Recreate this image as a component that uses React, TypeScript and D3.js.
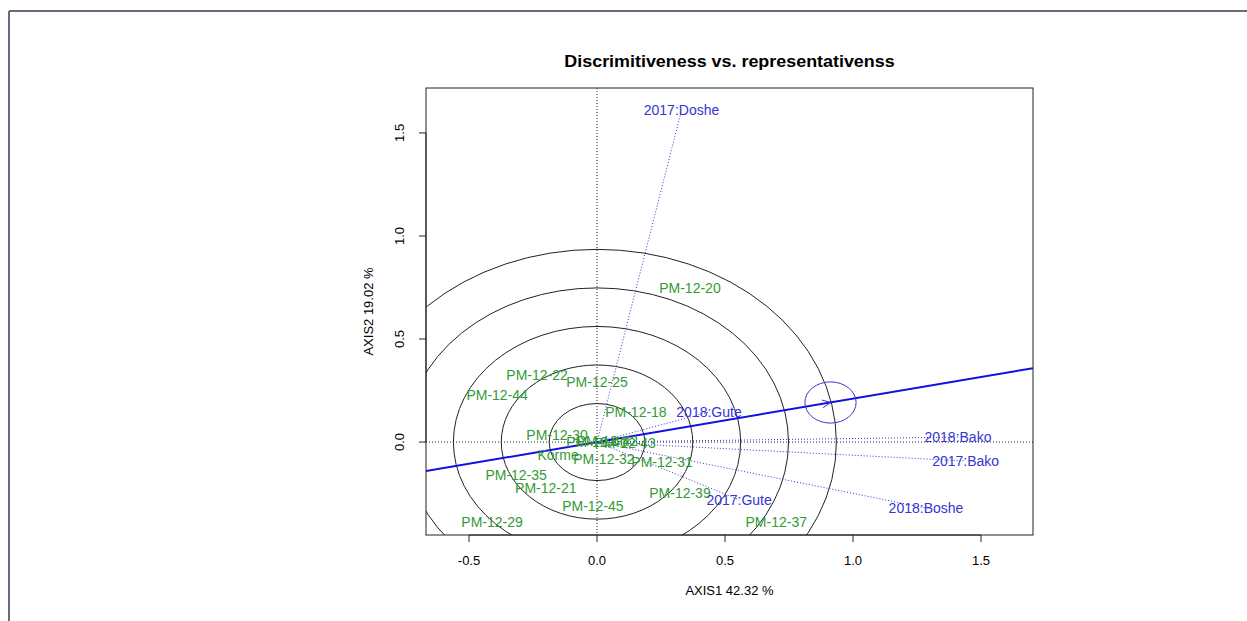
import React from "react";
import * as d3 from "d3";

// genotypes (green) - biplot scores
const genoNames = [
  "PM-12-20", "PM-12-22", "PM-12-25", "PM-12-44", "PM-12-18", "PM-12-30",
  "Korme", "PM-12-40", "PM-12-42", "PM-12-43", "PM-12-32", "PM-12-31",
  "PM-12-35", "PM-12-21", "PM-12-45", "PM-12-29", "PM-12-39", "PM-12-37",
];
const genoX = [0.363, -0.234, 0.0, -0.39, 0.152, -0.156, -0.152, 0.0, 0.04, 0.11, 0.027, 0.254, -0.316, -0.2, -0.016, -0.41, 0.324, 0.70];
const genoY = [0.748, 0.325, 0.29, 0.228, 0.146, 0.034, -0.063, 0.0, 0.004, -0.005, -0.083, -0.097, -0.16, -0.223, -0.31, -0.388, -0.248, -0.388];

// environments (blue) - vectors from the origin
const envNames = ["2017:Doshe", "2018:Gute", "2018:Bako", "2017:Bako", "2018:Boshe", "2017:Gute"];
const envX = [0.33, 0.4375, 1.41, 1.44, 1.285, 0.555];
const envY = [1.61, 0.146, 0.024, -0.092, -0.32, -0.28];

// average environment coordinate and concentric circle radii
const avgEnv = [0.912, 0.192];
const circleRadii = [0.187, 0.374, 0.561, 0.748, 0.935];
const aecRadius = 0.1;

const xTicks = [-0.5, 0.0, 0.5, 1.0, 1.5];
const yTicks = [0.0, 0.5, 1.0, 1.5];
const title = "Discrimitiveness vs. representativenss";
const xLabel = "AXIS1 42.32 %";
const yLabel = "AXIS2 19.02 %";

const App = () => {
  const width = 1247;
  const height = 621;
  const plot = { left: 426, right: 1033, top: 88, bottom: 535 };
  const font = "'Liberation Sans', Arial, sans-serif";
  const green = "#349a34";
  const blue = "#3535d0";

  const x = d3.scaleLinear().domain([-0.668, 1.703]).range([plot.left, plot.right]);
  const y = d3.scaleLinear().domain([-0.451, 1.718]).range([plot.bottom, plot.top]);

  const slope = avgEnv[1] / avgEnv[0];
  const [x0, x1] = x.domain();
  const ax = x(avgEnv[0]);
  const ay = y(avgEnv[1]);
  const ang = Math.atan2(ay - y(0), ax - x(0));
  const head = 9;
  const headPath = `M${ax - head * Math.cos(ang - 0.45)},${ay - head * Math.sin(ang - 0.45)}L${ax},${ay}L${ax - head * Math.cos(ang + 0.45)},${ay - head * Math.sin(ang + 0.45)}`;

  return (
    <svg width={width} height={height} style={{ position: "absolute", left: 0, top: 0, background: "#fff" }} fontFamily={font}>
      <defs>
        <clipPath id="plotClip">
          <rect x={plot.left} y={plot.top} width={plot.right - plot.left} height={plot.bottom - plot.top} />
        </clipPath>
      </defs>
      {/* outer frame */}
      <line x1={9} y1={11} x2={width} y2={11} stroke="#6a6a7c" strokeWidth={2} />
      <line x1={9} y1={11} x2={9} y2={height} stroke="#6a6a7c" strokeWidth={2} />

      <text transform={`translate(${(plot.left + plot.right) / 2},67) scale(1.12,1)`} textAnchor="middle" fontWeight="bold" fontSize={16}>{title}</text>

      <g clipPath="url(#plotClip)">
        {circleRadii.map((r, i) => (
          <ellipse key={i} cx={x(0)} cy={y(0)} rx={x(r) - x(0)} ry={y(0) - y(r)} fill="none" stroke="#222" strokeWidth={1} />
        ))}
        <line x1={x(0)} y1={plot.top} x2={x(0)} y2={plot.bottom} stroke="#222" strokeDasharray="1,2" />
        <line x1={plot.left} y1={y(0)} x2={plot.right} y2={y(0)} stroke="#222" strokeDasharray="1,2" />
        {envNames.map((n, i) => (
          <line key={n} x1={x(0)} y1={y(0)} x2={x(envX[i])} y2={y(envY[i])} stroke={blue} strokeDasharray="1,2" strokeWidth={1} />
        ))}
        <line x1={x(x0)} y1={y(x0 * slope)} x2={x(x1)} y2={y(x1 * slope)} stroke="#1010e0" strokeWidth={2} />
        <path d={headPath} fill="none" stroke={blue} strokeWidth={1} />
        <ellipse cx={ax} cy={ay} rx={x(aecRadius) - x(0)} ry={y(0) - y(aecRadius)} fill="none" stroke={blue} strokeWidth={1} />
        {genoNames.map((n, i) => (
          <text key={n} x={x(genoX[i])} y={y(genoY[i])} dy="0.36em" textAnchor="middle" fontSize={14} fill={green}>{n}</text>
        ))}
        {envNames.map((n, i) => (
          <text key={n} x={x(envX[i])} y={y(envY[i])} dy="0.36em" textAnchor="middle" fontSize={14} fill={blue}>{n}</text>
        ))}
      </g>

      <rect x={plot.left} y={plot.top} width={plot.right - plot.left} height={plot.bottom - plot.top} fill="none" stroke="#222" strokeWidth={1} />

      {/* x axis */}
      <line x1={x(xTicks[0])} y1={plot.bottom} x2={x(xTicks[xTicks.length - 1])} y2={plot.bottom} stroke="#222" />
      {xTicks.map((t) => (
        <g key={t}>
          <line x1={x(t)} y1={plot.bottom} x2={x(t)} y2={plot.bottom + 7} stroke="#222" />
          <text x={x(t)} y={565} textAnchor="middle" fontSize={13}>{t.toFixed(1)}</text>
        </g>
      ))}
      <text x={(plot.left + plot.right) / 2} y={595} textAnchor="middle" fontSize={13}>{xLabel}</text>

      {/* y axis */}
      <line x1={plot.left} y1={y(yTicks[0])} x2={plot.left} y2={y(yTicks[yTicks.length - 1])} stroke="#222" />
      {yTicks.map((t) => (
        <g key={t}>
          <line x1={plot.left - 7} y1={y(t)} x2={plot.left} y2={y(t)} stroke="#222" />
          <text transform={`translate(${plot.left - 22},${y(t)}) rotate(-90)`} textAnchor="middle" fontSize={13}>{t.toFixed(1)}</text>
        </g>
      ))}
      <text transform={`translate(${373},${(plot.top + plot.bottom) / 2}) rotate(-90)`} textAnchor="middle" fontSize={13}>{yLabel}</text>
    </svg>
  );
};

export default App;
